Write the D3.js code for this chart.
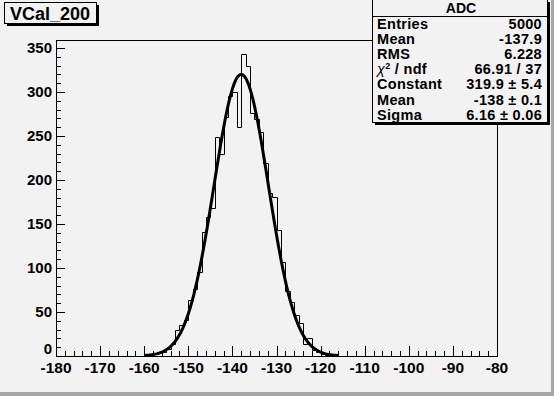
<!DOCTYPE html>
<html>
<head>
<meta charset="utf-8">
<script src="https://cdn.jsdelivr.net/npm/d3@7"></script>
<style>
  body { margin: 0; background: #f2f2f2; }
  svg { display: block; font-family: "Liberation Sans", Arial, sans-serif; font-weight: bold; }
</style>
</head>
<body>
<div id="chart"></div>
<script>
// histogram: 100 bins of width 1 from -180 to -80, only the non-empty ones listed
const binLow = -160;
const counts = [1, 1, 3, 3, 5, 8, 14, 29, 35, 41,
                64, 76, 95, 141, 158, 168, 249, 229, 272, 295,
                300, 260, 343, 329, 276, 269, 254, 219, 185, 181,
                143, 107, 74, 61, 47, 37, 14, 21, 7, 4,
                2, 1, 1];

const xTicks = [-180, -170, -160, -150, -140, -130, -120, -110, -100, -90, -80];
const yTicks = [0, 50, 100, 150, 200, 250, 300, 350];

const statLabels = ["Entries", "Mean", "RMS", "chi2", "Constant", "Mean", "Sigma"];
const statValues = ["5000", "-137.9", "6.228", "66.91 / 37", "319.9 \u00b1 5.4", "-138 \u00b1 0.1", "6.16 \u00b1 0.06"];

// gaussian fit parameters (from the stats box)
const fitConst = 319.9, fitMean = -138, fitSigma = 6.16;
const fitRange = [-160, -116];

const width = 554, height = 396;
const frame = {left: 56, right: 497, top: 40, bottom: 356};

const svg = d3.select("#chart").append("svg")
    .attr("width", width)
    .attr("height", height);

svg.append("rect").attr("width", width).attr("height", height).attr("fill", "#f2f2f2");
// canvas bevel
svg.append("rect").attr("x", width - 3).attr("y", 0).attr("width", 3).attr("height", height).attr("fill", "#a6a6a6");
svg.append("rect").attr("x", 0).attr("y", height - 4).attr("width", width).attr("height", 4).attr("fill", "#a6a6a6");

const x = d3.scaleLinear().domain([-180, -80]).range([frame.left, frame.right]);
const y = d3.scaleLinear().domain([0, 359]).range([frame.bottom, frame.top]);

// frame
svg.append("rect")
    .attr("x", frame.left + 0.5).attr("y", frame.top + 0.5)
    .attr("width", frame.right - frame.left).attr("height", frame.bottom - frame.top)
    .attr("fill", "none").attr("stroke", "#000").attr("stroke-width", 1);

// histogram outline
const pts = [[-180, 0], [binLow, 0]];
counts.forEach((c, i) => {
  pts.push([binLow + i, c]);
  pts.push([binLow + i + 1, c]);
});
pts.push([binLow + counts.length, 0]);
pts.push([-80, 0]);

svg.append("path")
    .datum(pts)
    .attr("d", d3.line().x(d => Math.round(x(d[0])) + 0.5).y(d => Math.round(y(d[1])) + 0.5))
    .attr("fill", "none")
    .attr("stroke", "#000")
    .attr("stroke-width", 1);

// fit curve
const fitPts = d3.range(fitRange[0], fitRange[1] + 0.001, 0.25)
    .map(v => [v, fitConst * Math.exp(-0.5 * Math.pow((v - fitMean) / fitSigma, 2))]);

svg.append("path")
    .datum(fitPts)
    .attr("d", d3.line().x(d => x(d[0])).y(d => y(d[1])))
    .attr("fill", "none")
    .attr("stroke", "#000")
    .attr("stroke-width", 3);

// x axis ticks
const xMinor = d3.range(-180, -79.9, 2);
svg.append("g").selectAll("line")
    .data(xMinor)
    .join("line")
    .attr("x1", d => Math.round(x(d)) + 0.5)
    .attr("x2", d => Math.round(x(d)) + 0.5)
    .attr("y1", frame.bottom)
    .attr("y2", d => frame.bottom - (d % 10 === 0 ? 10 : 5))
    .attr("stroke", "#000");

svg.append("g").selectAll("text")
    .data(xTicks)
    .join("text")
    .attr("x", d => x(d))
    .attr("y", 373)
    .attr("text-anchor", "middle")
    .attr("font-size", 15.5)
    .text(d => d);

// y axis ticks
const yMinor = d3.range(0, 351, 10);
svg.append("g").selectAll("line")
    .data(yMinor)
    .join("line")
    .attr("x1", frame.left)
    .attr("x2", d => frame.left + (d % 50 === 0 ? 9 : 5))
    .attr("y1", d => Math.round(y(d)) + 0.5)
    .attr("y2", d => Math.round(y(d)) + 0.5)
    .attr("stroke", "#000");

svg.append("g").selectAll("text")
    .data(yTicks)
    .join("text")
    .attr("x", 52)
    .attr("y", d => y(d) + (d === 0 ? -2 : 5))
    .attr("text-anchor", "end")
    .attr("font-size", 15)
    .text(d => d);

// title and stats boxes with ROOT-style shadow
function box(x0, y0, w, h) {
  svg.append("rect").attr("x", x0 + 3).attr("y", y0 + 3).attr("width", w).attr("height", h).attr("fill", "#000");
  svg.append("rect").attr("x", x0 + 0.5).attr("y", y0 + 0.5).attr("width", w).attr("height", h)
      .attr("fill", "#f2f2f2").attr("stroke", "#000");
}
box(4, 2, 92, 21);
svg.append("text").attr("x", 50).attr("y", 19.5).attr("text-anchor", "middle")
    .attr("font-size", 18).text("VCal_200");

// stats box
box(372, -1, 175, 123);
svg.append("line").attr("x1", 372).attr("x2", 548).attr("y1", 16.5).attr("y2", 16.5).attr("stroke", "#000");
svg.append("text").attr("x", 461).attr("y", 13).attr("text-anchor", "middle")
    .attr("font-size", 14).text("ADC");

statLabels.forEach((lab, i) => {
  const yy = 28.5 + i * 15.2;
  const t = svg.append("text").attr("x", 377).attr("y", yy)
      .attr("font-size", 14.5).attr("letter-spacing", 0.3);
  if (lab === "chi2") {
    t.append("tspan").attr("font-style", "italic").attr("font-weight", "normal").text("\u03c7");
    t.append("tspan").attr("font-size", 9).attr("dy", -5).text("2");
    t.append("tspan").attr("dy", 5).text(" / ndf");
  } else {
    t.text(lab);
  }
  svg.append("text").attr("x", 542).attr("y", yy).attr("text-anchor", "end")
      .attr("font-size", 14.5).attr("letter-spacing", 0.3).text(statValues[i]);
});
</script>
</body>
</html>
